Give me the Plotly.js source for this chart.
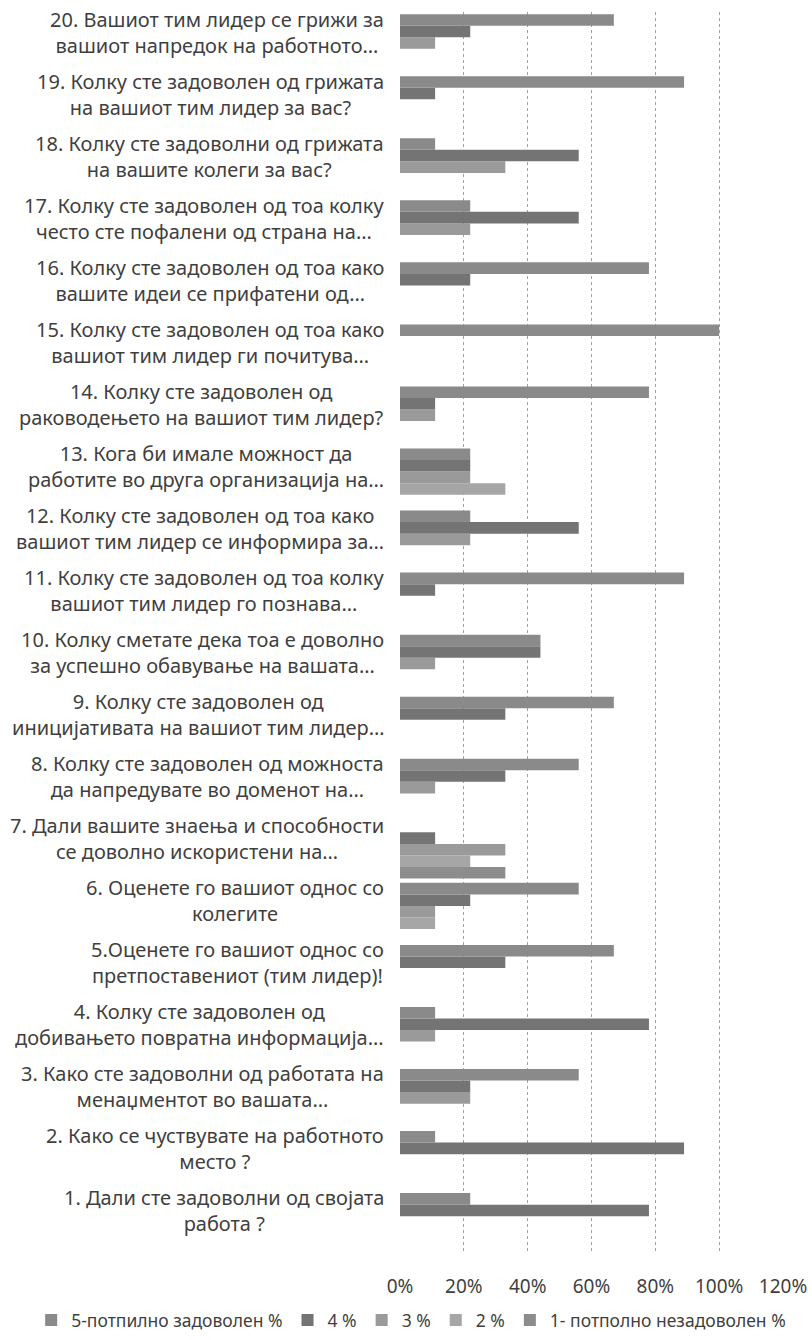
<!DOCTYPE html>
<html>
<head>
<meta charset="utf-8">
<script src="https://cdn.plot.ly/plotly-3.0.1.min.js"></script>
<style>
  html, body { margin: 0; padding: 0; background: #ffffff; }
  #chart { width: 812px; height: 1340px; }
</style>
</head>
<body>
<div id="chart"></div>
<script>
// Survey questions, question 1 first (drawn at the bottom of the axis)
const categories = [
  "1. Дали сте задоволни од својата<br>работа ?",
  "2. Како се чуствувате на работното<br>место ?",
  "3. Како сте задоволни од работата на<br>менаџментот во вашата…",
  "4. Колку сте задоволен од<br>добивањето повратна информација…",
  "5.Оценете го вашиот однос со<br>претпоставениот (тим лидер)!",
  "6. Оценете го вашиот однос со<br>колегите",
  "7. Дали вашите знаења и способности<br>се доволно искористени на…",
  "8. Колку сте задоволен од можноста<br>да напредувате во доменот на…",
  "9. Колку сте задоволен од<br>иницијативата на вашиот тим лидер…",
  "10. Колку сметате дека тоа е доволно<br>за успешно обавување на вашата…",
  "11. Колку сте задоволен од тоа колку<br>вашиот тим лидер го познава…",
  "12. Колку сте задоволен од тоа како<br>вашиот тим лидер се информира за…",
  "13. Кога би имале можност да<br>работите во друга организација на…",
  "14. Колку сте задоволен од<br>раководењето на вашиот тим лидер?",
  "15. Колку сте задоволен од тоа како<br>вашиот тим лидер ги почитува…",
  "16. Колку сте задоволен од тоа како<br>вашите идеи се прифатени од…",
  "17. Колку сте задоволен од тоа колку<br>често сте пофалени од страна на…",
  "18. Колку сте задоволни од грижата<br>на вашите колеги за вас?",
  "19. Колку сте задоволен од грижата<br>на вашиот тим лидер за вас?",
  "20. Вашиот тим лидер се грижи за<br>вашиот напредок на работното…"
];

// Share of answers per question (%), same order as categories
const fullySatisfied   = [22, 11, 56, 11, 67, 56, 0, 56, 67, 44, 89, 22, 22, 78, 100, 78, 22, 11, 89, 67];
const grade4           = [78, 89, 22, 78, 33, 22, 11, 33, 33, 44, 11, 56, 22, 11, 0, 22, 56, 56, 11, 22];
const grade3           = [0, 0, 22, 11, 0, 11, 33, 11, 0, 11, 0, 22, 22, 11, 0, 0, 22, 33, 0, 11];
const grade2           = [0, 0, 0, 0, 0, 11, 22, 0, 0, 0, 0, 0, 33, 0, 0, 0, 0, 0, 0, 0];
const fullyUnsatisfied = [0, 0, 0, 0, 0, 0, 33, 0, 0, 0, 0, 0, 0, 0, 0, 0, 0, 0, 0, 0];

const seriesNames = ["1- потполно незадоволен %", "2 %", "3 %", "4 %", "5-потпилно задоволен %"];
const xTicks = [0, 20, 40, 60, 80, 100, 120];
const xTickText = xTicks.map(v => v + "%");

const textColor = "#3f3f3f";
const fontFamily = "'Noto Sans', 'Open Sans', 'DejaVu Sans', sans-serif";

// grouped bars: first trace sits lowest in each group, so the top grade is added last
const seriesValues = [fullyUnsatisfied, grade2, grade3, grade4, fullySatisfied];
const seriesColors = ["#8d8d8d", "#a6a6a6", "#9a9a9a", "#747474", "#8a8a8a"];

const traces = seriesValues.map((vals, k) => ({
  type: "bar",
  orientation: "h",
  name: seriesNames[k],
  y: categories,
  x: vals,
  marker: { color: seriesColors[k], line: { width: 0 } },
  hoverinfo: "x+name"
}));

// question texts, centred line by line to the left of the bars
const labelNotes = categories.map(c => ({
  xref: "paper", x: 0, xanchor: "right", xshift: -14,
  yref: "y", y: c, yanchor: "middle", yshift: 11,
  text: c, align: "center", showarrow: false,
  font: { family: fontFamily, size: 20, color: textColor }
}));

const layout = {
  width: 812,
  height: 1340,
  margin: { l: 400, r: 29, t: 12, b: 87, autoexpand: false },
  paper_bgcolor: "#ffffff",
  plot_bgcolor: "#ffffff",
  barmode: "group",
  bargap: 0.07,
  bargroupgap: 0,
  showlegend: true,
  legend: {
    orientation: "h",
    traceorder: "reversed",
    xref: "paper", x: -0.963, xanchor: "left",
    yref: "paper", y: -0.054, yanchor: "middle",
    bgcolor: "rgba(0,0,0,0)",
    font: { family: fontFamily, size: 17.5, color: textColor },
    itemwidth: 30
  },
  xaxis: {
    range: [0, 120],
    tickmode: "array",
    tickvals: xTicks,
    ticktext: xTickText,
    showgrid: true,
    gridcolor: "#a0a0a0",
    gridwidth: 1,
    griddash: "dot",
    zeroline: false,
    showline: false,
    ticks: "",
    ticklabelstandoff: 20,
    tickfont: { family: fontFamily, size: 19, color: textColor }
  },
  yaxis: {
    type: "category",
    categoryorder: "array",
    categoryarray: categories,
    range: [-0.5, categories.length - 0.5],
    showticklabels: false,
    showgrid: false,
    zeroline: false,
    showline: false,
    ticks: ""
  },
  annotations: labelNotes
};

Plotly.newPlot("chart", traces, layout, { displayModeBar: false, staticPlot: true });
</script>
</body>
</html>
